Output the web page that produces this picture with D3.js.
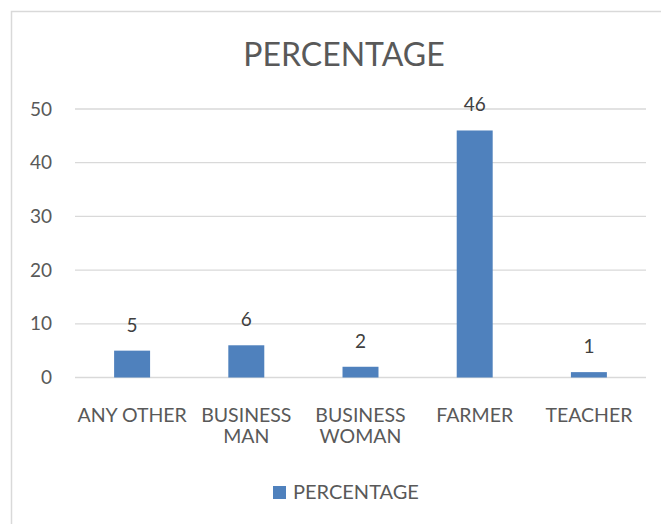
<!DOCTYPE html>
<html>
<head>
<meta charset="utf-8">
<script src="https://cdn.jsdelivr.net/npm/d3@7"></script>
<style>
  html, body { margin: 0; padding: 0; background: #fff; }
  svg { display: block; font-family: Lato, "Open Sans", sans-serif; }
</style>
</head>
<body>
<svg id="chart" width="661" height="524"></svg>
<script>
// Occupation breakdown (percent)
const categories = ["ANY OTHER", "BUSINESS MAN", "BUSINESS WOMAN", "FARMER", "TEACHER"];
const percentages = [5, 6, 2, 46, 1];
const yTicks = [0, 10, 20, 30, 40, 50];
const seriesName = "PERCENTAGE";
const chartTitle = "PERCENTAGE";

const svg = d3.select("#chart");
const textColor = "#595959";
const gridColor = "#d9d9d9";
const barColor = "#4f81bd";
const labelFont = "Lato, 'Open Sans', sans-serif";

// chart frame
svg.append("path")
  .attr("d", "M11.5,524 V11.5 H661")
  .attr("fill", "none")
  .attr("stroke", gridColor)
  .attr("stroke-width", 1.5);

const plot = { left: 75, right: 646, top: 109, bottom: 377.5 };

const x = d3.scaleBand()
  .domain(categories)
  .range([plot.left, plot.right])
  .paddingInner(0.685)
  .paddingOuter(0.3425);

const y = d3.scaleLinear()
  .domain([0, 50])
  .range([plot.bottom, plot.top]);

// title
svg.append("text")
  .attr("x", 344)
  .attr("y", 66)
  .attr("text-anchor", "middle")
  .attr("font-size", 32)
  .attr("fill", textColor)
  .text(chartTitle);

// horizontal gridlines
svg.append("g")
  .selectAll("line")
  .data(yTicks)
  .join("line")
  .attr("x1", plot.left)
  .attr("x2", plot.right)
  .attr("y1", d => y(d))
  .attr("y2", d => y(d))
  .attr("stroke", gridColor)
  .attr("stroke-width", 1.3);

// y axis labels
const yAxis = svg.append("g")
  .attr("transform", `translate(${plot.left},0)`)
  .call(d3.axisLeft(y).tickValues(yTicks).tickSize(0).tickPadding(23));
yAxis.select(".domain").remove();
yAxis.selectAll("text")
  .attr("font-family", labelFont)
  .attr("font-size", 19)
  .attr("fill", textColor);

// bars
svg.append("g")
  .selectAll("rect")
  .data(categories)
  .join("rect")
  .attr("x", d => x(d))
  .attr("width", x.bandwidth())
  .attr("y", (d, i) => y(percentages[i]))
  .attr("height", (d, i) => y(0) - y(percentages[i]))
  .attr("fill", barColor);

// value labels
svg.append("g")
  .selectAll("text")
  .data(categories)
  .join("text")
  .attr("x", d => x(d) + x.bandwidth() / 2)
  .attr("y", (d, i) => y(percentages[i]) - 19)
  .attr("text-anchor", "middle")
  .attr("font-size", 19)
  .attr("fill", "#404040")
  .text((d, i) => percentages[i]);

// category labels, wrapped to the slot width
const xAxis = svg.append("g")
  .attr("transform", `translate(0,${plot.bottom})`)
  .call(d3.axisBottom(x).tickSize(0).tickPadding(0));
xAxis.select(".domain").remove();
xAxis.selectAll("text")
  .attr("font-family", labelFont)
  .attr("font-size", 19.5)
  .attr("fill", textColor)
  .attr("dy", null)
  .attr("y", 0)
  .each(function () {
    const t = d3.select(this);
    const words = t.text().split(/\s+/);
    t.text(null);
    const maxW = x.step();
    let line = [];
    let tspan = t.append("tspan").attr("x", 0).attr("y", 44.5);
    let lineNo = 0;
    for (const w of words) {
      line.push(w);
      tspan.text(line.join(" "));
      if (tspan.node().getComputedTextLength() > maxW && line.length > 1) {
        line.pop();
        tspan.text(line.join(" "));
        line = [w];
        lineNo += 1;
        tspan = t.append("tspan").attr("x", 0).attr("y", 44.5 + lineNo * 20.5).text(w);
      }
    }
  });

// legend
const legend = svg.append("g");
legend.append("rect")
  .attr("x", 273)
  .attr("y", 486)
  .attr("width", 13)
  .attr("height", 13)
  .attr("fill", barColor);
legend.append("text")
  .attr("x", 293)
  .attr("y", 499)
  .attr("font-size", 20)
  .attr("fill", textColor)
  .text(seriesName);
</script>
</body>
</html>
